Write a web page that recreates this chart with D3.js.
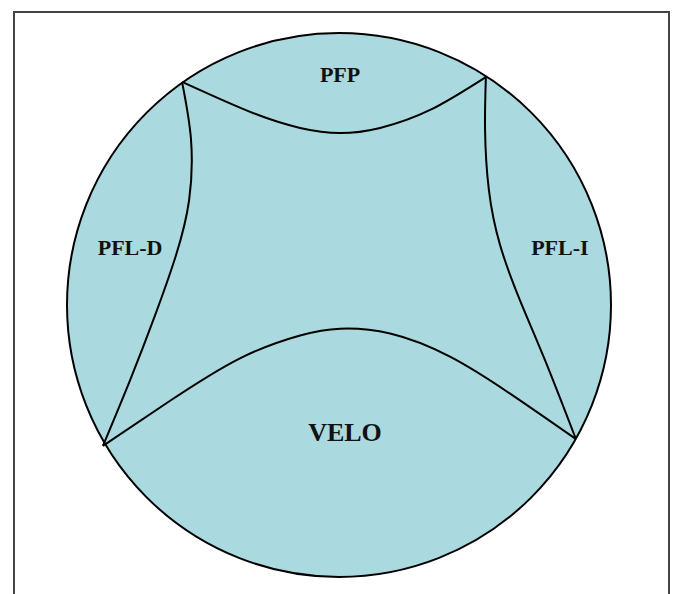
<!DOCTYPE html>
<html>
<head>
<meta charset="utf-8">
<script src="https://cdn.jsdelivr.net/npm/d3@7"></script>
<style>
  body { margin: 0; background: #fff; }
  svg { display: block; }
  .label { font-family: "Liberation Serif", "Times New Roman", serif; font-weight: bold; fill: #111; }
</style>
</head>
<body>
<div id="chart"></div>
<script>
// region names and where they sit (unit-circle coordinates, y down)
const regionNames = ["PFP", "PFL-D", "PFL-I", "VELO"];
const labelX = [0.004, -0.768, 0.812, 0.022];
const labelY = [-0.849, -0.21, -0.21, 0.467];
const labelSize = [22, 22, 22, 26];

// boundary curves, unit-circle coordinates
const topCurve = [[-0.577, -0.820], [-0.327, -0.710], [-0.143, -0.651], [0.004, -0.632],
                  [0.151, -0.651], [0.335, -0.717], [0.540, -0.838]];
const leftCurve = [[-0.577, -0.820], [-0.544, -0.607], [-0.551, -0.386], [-0.599, -0.184],
                   [-0.676, 0.037], [-0.768, 0.276], [-0.868, 0.518]];
const rightCurve = [[0.540, -0.838], [0.537, -0.643], [0.551, -0.423], [0.592, -0.221],
                    [0.665, -0.018], [0.757, 0.202], [0.871, 0.493]];
const bottomCurve = [[-0.868, 0.518], [-0.621, 0.352], [-0.364, 0.196], [-0.143, 0.112],
                     [0.004, 0.087], [0.188, 0.105], [0.408, 0.190], [0.629, 0.326],
                     [0.871, 0.493]];

const width = 674, height = 594;
const cx = 339, cy = 305, r = 272;

const svg = d3.select("#chart").append("svg")
    .attr("width", width)
    .attr("height", height);

// frame
svg.append("path")
    .attr("d", `M14,${height + 5}V12H669V${height + 5}`)
    .attr("fill", "none")
    .attr("stroke", "#444")
    .attr("stroke-width", 2);

// scales from unit circle to pixels
const x = d3.scaleLinear().domain([-1, 1]).range([cx - r, cx + r]);
const y = d3.scaleLinear().domain([-1, 1]).range([cy - r, cy + r]);

svg.append("circle")
    .attr("cx", x(0))
    .attr("cy", y(0))
    .attr("r", x(1) - x(0))
    .attr("fill", "#aad9df")
    .attr("stroke", "#000")
    .attr("stroke-width", 2);

const line = d3.line()
    .x(d => x(d[0]))
    .y(d => y(d[1]))
    .curve(d3.curveNatural);

svg.selectAll(".boundary")
    .data([topCurve, leftCurve, rightCurve, bottomCurve])
    .enter()
    .append("path")
    .attr("class", "boundary")
    .attr("d", line)
    .attr("fill", "none")
    .attr("stroke", "#000")
    .attr("stroke-width", 2);

svg.selectAll(".label")
    .data(regionNames)
    .enter()
    .append("text")
    .attr("class", "label")
    .attr("x", (d, i) => x(labelX[i]))
    .attr("y", (d, i) => y(labelY[i]))
    .attr("text-anchor", "middle")
    .attr("dominant-baseline", "central")
    .style("font-size", (d, i) => labelSize[i] + "px")
    .text(d => d);
</script>
</body>
</html>
